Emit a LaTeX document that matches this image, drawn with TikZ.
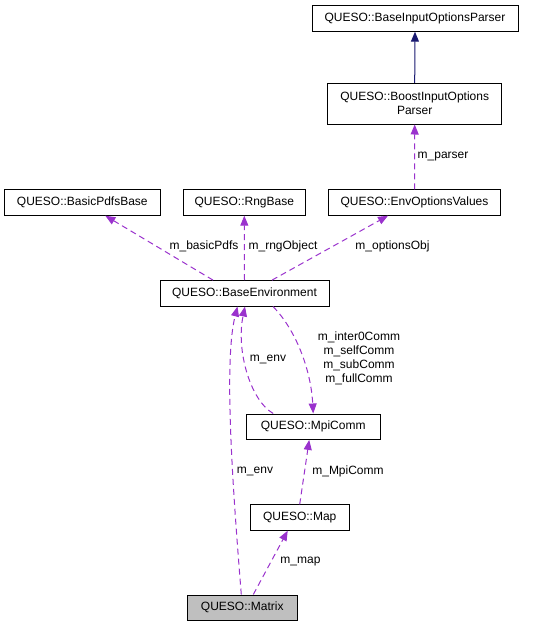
\documentclass[tikz,border=0pt]{standalone}
\usepackage{fontspec}
\setmainfont{Liberation Sans}
\usetikzlibrary{arrows.meta}
\definecolor{usecol}{HTML}{9A32CD}
\definecolor{inhcol}{HTML}{191970}
\definecolor{curcol}{HTML}{BFBFBF}

\begin{document}
\begin{tikzpicture}[x=1pt, y=-1pt, >={Triangle[length=10pt,width=8pt]},
  cls/.style={draw, line width=0.9pt, minimum height=25.5pt, inner sep=2pt,
    font=\fontsize{12}{14}\selectfont, minimum width=#1},
  lbl/.style={inner sep=0pt, font=\fontsize{12}{14}\selectfont},
  uses/.style={draw=usecol, line width=1pt, dash pattern=on 6pt off 4pt, ->, >={Triangle[length=10pt,width=8pt,fill=usecol]}},
  inh/.style={draw=inhcol, line width=1pt, ->, >={Triangle[length=10pt,width=8pt,fill=inhcol]}}]

\useasboundingbox (0,0) rectangle (541,627);

% classes
\node [cls=206pt] (baseparser) at (415,18.5) {QUESO::BaseInputOptionsParser};
\node [cls=174pt, minimum height=40.7pt, align=center] (boostparser) at (414.7,103.7) {QUESO::BoostInputOptions\\Parser};
\node [cls=156pt] (basicpdfs) at (82.3,202.5) {QUESO::BasicPdfsBase};
\node [cls=122.7pt] (rng) at (244.3,202.5) {QUESO::RngBase};
\node [cls=171.6pt] (envopts) at (414.5,202.5) {QUESO::EnvOptionsValues};
\node [cls=169pt] (baseenv) at (244.5,293.3) {QUESO::BaseEnvironment};
\node [cls=133.7pt] (mpicomm) at (313.2,426.7) {QUESO::MpiComm};
\node [cls=98.7pt] (map) at (299.7,517.5) {QUESO::Map};
\node [cls=109.3pt, fill=curcol] (matrix) at (242.3,607.7) {QUESO::Matrix};

% inheritance
\draw [inh] (boostparser.north) -- (baseparser.south);

% usage relations
\draw [uses] (envopts.north) -- (boostparser.south);
\draw [uses] ([xshift=-31.5pt]baseenv.north) -- ([xshift=23pt]basicpdfs.south);
\draw [uses] (baseenv.north) -- (rng.south);
\draw [uses] ([xshift=27.5pt]baseenv.north) -- ([xshift=-26.5pt]envopts.south);
\draw [uses] ([xshift=28.5pt]baseenv.south) .. controls (296,330) and (311,370) .. (mpicomm.north);
\draw [uses] ([xshift=-40pt]mpicomm.north) .. controls (250,400) and (236,350) .. ([xshift=0.5pt]baseenv.south);
\draw [uses] ([xshift=-1pt]matrix.north) .. controls (232,480) and (224,360) .. ([xshift=-7pt]baseenv.south);
\draw [uses] (map.north) -- ([xshift=-4pt]mpicomm.south);
\draw [uses] ([xshift=11pt]matrix.north) -- ([xshift=-12pt]map.south);

% labels
\node [lbl] (lparser) at (443,156.7) {m\_parser};
\node [lbl] (lpdfs) at (204,246.7) {m\_basicPdfs};
\node [lbl] (lrng) at (283,246.7) {m\_rngObject};
\node [lbl] (lopts) at (392.5,246.7) {m\_optionsObj};
\node [lbl, align=center] (lcomm) at (359,358.7) {m\_inter0Comm\\m\_selfComm\\m\_subComm\\m\_fullComm};
\node [lbl] (lenvup) at (268,359) {m\_env};
\node [lbl] (lenvlow) at (255,471) {m\_env};
\node [lbl] (lmpi) at (348,471) {m\_MpiComm};
\node [lbl] (lmap) at (300.5,562) {m\_map};

\end{tikzpicture}
\end{document}
